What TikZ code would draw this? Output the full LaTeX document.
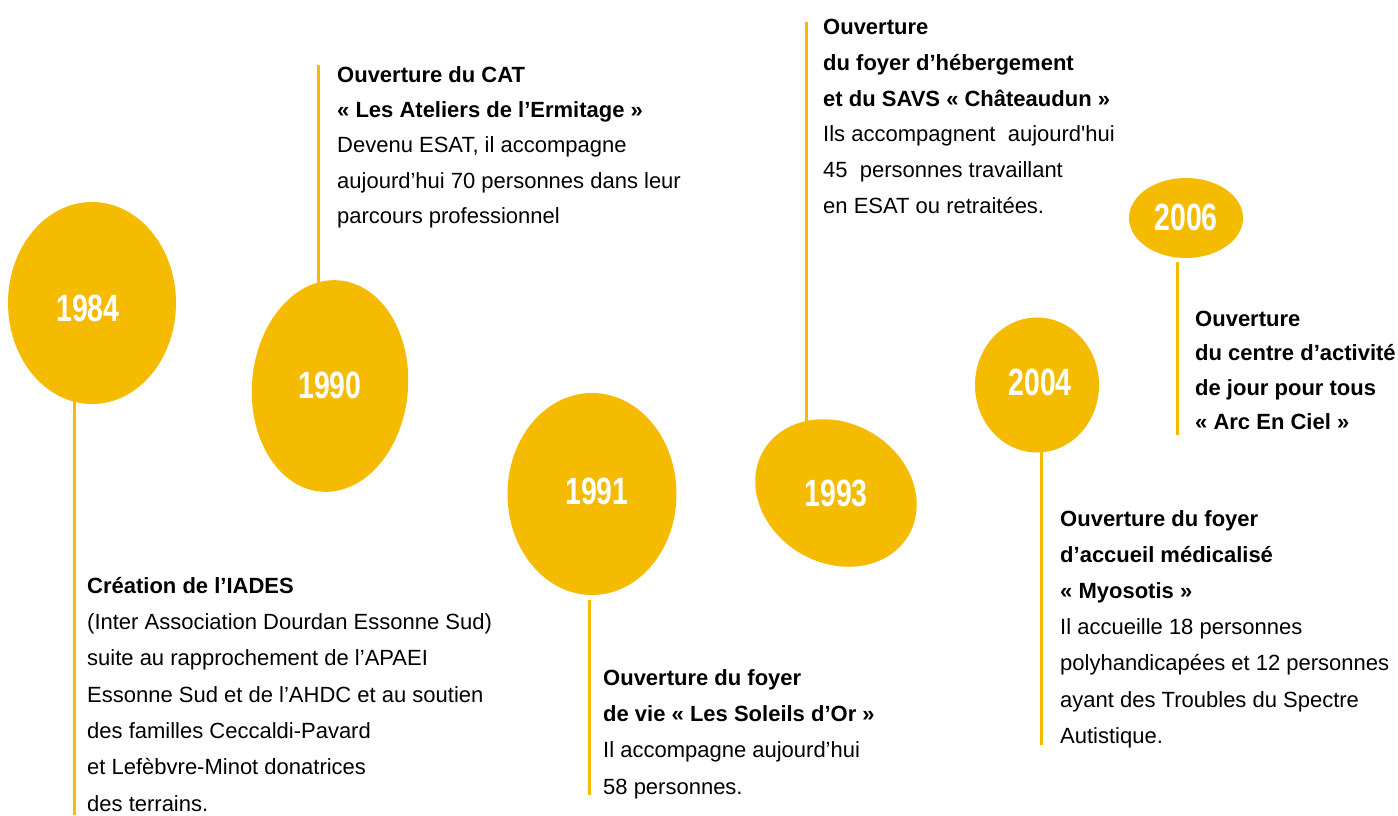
\documentclass[tikz,border=0pt]{standalone}
\usepackage{fontspec}
\setmainfont{Liberation Sans}
\newfontfamily\yearfont[FakeStretch=0.75]{Liberation Sans}
\usetikzlibrary{shapes.geometric,backgrounds}
\definecolor{gold}{RGB}{245,187,0}
\tikzset{
  blob/.style={ellipse, fill=gold, inner sep=0pt},
  yeartext/.style={inner sep=0pt, text=white,
    font=\yearfont\bfseries\fontsize{38}{38}\selectfont},
  desc/.style={anchor=north west, align=left, inner sep=0pt, text=black,
    font=\fontsize{22}{36}\selectfont},
  stem/.style={draw=gold, line width=3pt},
}
\begin{document}
\begin{tikzpicture}[x=1pt,y=-1pt]
\useasboundingbox (0,0) rectangle (1398,815);
% year ellipses
\node[blob, minimum width=168, minimum height=202] (e1984) at (92,303) {};
\node[blob, minimum width=156, minimum height=212, rotate=-5] (e1990) at (330,386) {};
\node[blob, minimum width=169, minimum height=202] (e1991) at (592,494) {};
\node[blob, minimum width=168, minimum height=140, rotate=-30] (e1993) at (836,493) {};
\node[blob, minimum width=124, minimum height=135] (e2004) at (1037,385) {};
\node[blob, minimum width=114, minimum height=80] (e2006) at (1186,218) {};
% year labels
\node[yeartext] (y1984) at (88,308) {1984};
\node[yeartext] (y1990) at (330,385) {1990};
\node[yeartext] (y1991) at (597,491) {1991};
\node[yeartext] (y1993) at (836,493) {1993};
\node[yeartext] (y2004) at (1040,382) {2004};
\node[yeartext] (y2006) at (1186,217) {2006};
% connector ends
\coordinate (s1984) at (74,815);
\coordinate (s1990) at (318,65);
\coordinate (a1991) at (589,600);
\coordinate (b1991) at (589,795);
\coordinate (s1993) at (806,22);
\coordinate (s2004) at (1041,745);
\coordinate (a2006) at (1177,262);
\coordinate (b2006) at (1177,435);
\begin{pgfonlayer}{background}
\draw[stem] (s1984 |- e1984.center) -- (s1984);
\draw[stem] (s1990) -- (s1990 |- e1990.center);
\draw[stem] (a1991) -- (b1991);
\draw[stem] (s1993) -- (s1993 |- e1993.center);
\draw[stem] (s2004 |- e2004.center) -- (s2004);
\draw[stem] (a2006) -- (b2006);
\end{pgfonlayer}
% texts
\node[desc, font=\fontsize{22}{36.3}\selectfont] (t1984) at (87,577) {\textbf{Création de l’IADES}\\
(Inter Association Dourdan Essonne Sud)\\
suite au rapprochement de l’APAEI\\
Essonne Sud et de l’AHDC et au soutien\\
des familles Ceccaldi-Pavard\\
et Lefèbvre-Minot donatrices\\
des terrains.};
\node[desc, font=\fontsize{22}{35.3}\selectfont] (t1990) at (337,66) {\textbf{Ouverture du CAT}\\
\textbf{« Les Ateliers de l’Ermitage »}\\
Devenu ESAT, il accompagne\\
aujourd’hui 70 personnes dans leur\\
parcours professionnel};
\node[desc, font=\fontsize{22}{36.3}\selectfont] (t1991) at (603,669) {\textbf{Ouverture du foyer}\\
\textbf{de vie « Les Soleils d’Or »}\\
Il accompagne aujourd’hui\\
58 personnes.};
\node[desc, font=\fontsize{22}{35.8}\selectfont] (t1993) at (823,19) {\textbf{Ouverture}\\
\textbf{du foyer d’hébergement}\\
\textbf{et du SAVS « Châteaudun »}\\
Ils accompagnent\ \ aujourd\textquotesingle hui\\
45\ \ personnes travaillant\\
en ESAT ou retraitées.};
\node[desc, font=\fontsize{22}{36.2}\selectfont] (t2004) at (1060,510) {\textbf{Ouverture du foyer}\\
\textbf{d’accueil médicalisé}\\
\textbf{« Myosotis »}\\
Il accueille 18 personnes\\
polyhandicapées et 12 personnes\\
ayant des Troubles du Spectre\\
Autistique.};
\node[desc, font=\bfseries\fontsize{22}{34.3}\selectfont] (t2006) at (1195,311) {Ouverture\\
du centre d’activité\\
de jour pour tous\\
« Arc En Ciel »};
\end{tikzpicture}
\end{document}
